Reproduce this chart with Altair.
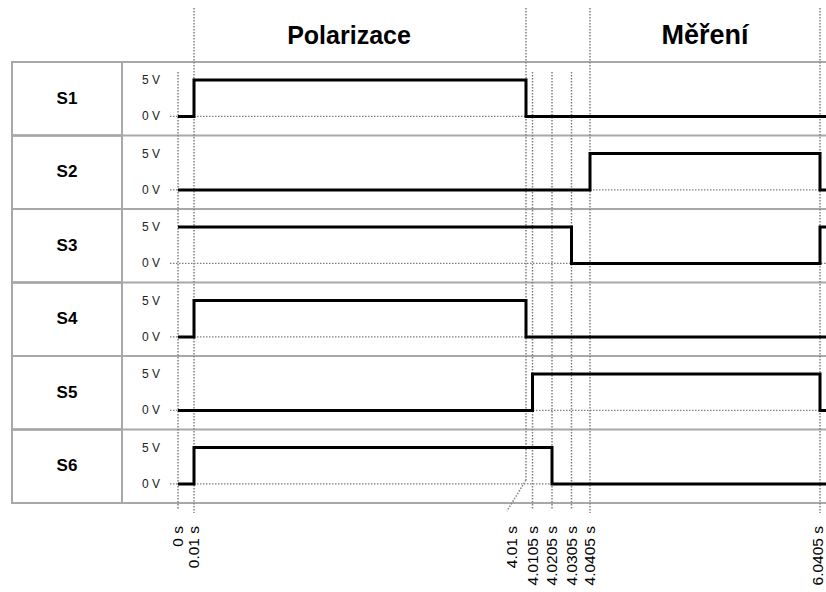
import altair as alt
import pandas as pd

# ---------------- data ----------------
signal_names = ["S1", "S2", "S3", "S4", "S5", "S6"]
signal_times = [
    [0, 0.01, 4.01, 6.1],
    [0, 4.0405, 6.0405, 6.1],
    [0, 4.0305, 6.0405, 6.1],
    [0, 0.01, 4.01, 6.1],
    [0, 4.0105, 6.0405, 6.1],
    [0, 0.01, 4.0205, 6.1],
]
signal_volts = [
    [0, 5, 0, 0],
    [0, 5, 0, 0],
    [5, 0, 5, 5],
    [0, 5, 0, 0],
    [0, 5, 0, 0],
    [0, 5, 0, 0],
]
tick_times = [0, 0.01, 4.01, 4.0105, 4.0205, 4.0305, 4.0405, 6.0405]
tick_labels = ["0 s", "0.01 s", "4.01 s", "4.0105 s", "4.0205 s",
               "4.0305 s", "4.0405 s", "6.0405 s"]
section_names = ["Polarizace", "Měření"]
section_start = [0.01, 4.0405]
section_end = [4.01, 6.0405]
level_labels = ["5 V", "0 V"]
level_values = [5, 0]

# ---------------- tables ----------------
sig_rows = []
for i, name in enumerate(signal_names):
    for t, v in zip(signal_times[i], signal_volts[i]):
        sig_rows.append({"signal": name, "row": i, "t": t, "v": v})
sig_df = pd.DataFrame(sig_rows)

rows_df = pd.DataFrame({"signal": signal_names, "row": list(range(len(signal_names)))})
bounds_df = pd.DataFrame({"b": list(range(len(signal_names) + 1))})

lvl_rows = []
for i, name in enumerate(signal_names):
    for lab, v in zip(level_labels, level_values):
        lvl_rows.append({"row": i, "label": lab, "v": v})
lvl_df = pd.DataFrame(lvl_rows)

bounds_set = set(section_start) | set(section_end)
kinds = []
for t in tick_times:
    if t == 4.01:
        kinds.append("bent")
    elif t in bounds_set:
        kinds.append("long")
    else:
        kinds.append("short")
ticks_df = pd.DataFrame({"t": tick_times, "label": tick_labels, "kind": kinds})

sec_df = pd.DataFrame({"name": section_names, "start": section_start, "end": section_end})

# ---------------- scales / style ----------------
FONT = "Liberation Sans"
GRID = "#a8a8a8"
DOT = "#808080"
DASH = [1.5, 1.5]
xscale = alt.Scale(domain=tick_times,
                   range=[178, 194, 526, 532.5, 552, 571.5, 590, 820],
                   zero=False, nice=False)
yscale = alt.Scale(domain=[0, 6], range=[62, 503], zero=False, nice=False)
LEVEL_Y = "datum.row + 0.74 - datum.v / 5 * 0.495"

X = lambda f: alt.X(f, scale=xscale, axis=None)
Y = lambda f: alt.Y(f, scale=yscale, axis=None)

# row separators across the full width
hlines = alt.Chart(bounds_df).mark_rule(color=GRID, strokeWidth=2).encode(
    y=Y("b:Q"), x=alt.value(12), x2=alt.value(826),
)

# label column boxes
boxes = alt.Chart(rows_df).transform_calculate(r2="datum.row + 1").mark_rect(
    fill=None, fillOpacity=0, stroke=GRID, strokeWidth=2
).encode(y=Y("row:Q"), y2="r2:Q", x=alt.value(12), x2=alt.value(122))

# 0 V dotted reference lines
zero_lines = alt.Chart(rows_df).transform_calculate(v="0", yy=LEVEL_Y).mark_rule(
    color=DOT, strokeWidth=1.2, strokeDash=DASH
).encode(y=Y("yy:Q"), x=alt.value(170), x2=alt.value(826))

# vertical dotted time markers
tick_base = alt.Chart(ticks_df)
long_ticks = tick_base.transform_filter("datum.kind == 'long'").mark_rule(
    color=DOT, strokeWidth=1.5, strokeDash=DASH
).encode(x=X("t:Q"), y=alt.value(8), y2=alt.value(513))
short_ticks = tick_base.transform_filter("datum.kind == 'short'").mark_rule(
    color=DOT, strokeWidth=1.5, strokeDash=DASH
).encode(x=X("t:Q"), y=alt.value(72), y2=alt.value(510))
bent_tick = tick_base.transform_filter("datum.kind == 'bent'").mark_rule(
    color=DOT, strokeWidth=1.5, strokeDash=DASH
).encode(x=X("t:Q"), y=alt.value(8), y2=alt.value(480))
bent_leader = tick_base.transform_filter("datum.kind == 'bent'").mark_rule(
    color=DOT, strokeWidth=1.5, strokeDash=DASH, x2Offset=-19
).encode(x=X("t:Q"), x2="t:Q", y=alt.value(480), y2=alt.value(511))

# signals
signals = alt.Chart(sig_df).transform_calculate(yy=LEVEL_Y).mark_line(
    interpolate="step-after", color="black", strokeWidth=3, strokeJoin="miter"
).encode(x=X("t:Q"), y=Y("yy:Q"), detail="signal:N")

# signal names
names = alt.Chart(rows_df).transform_calculate(yy="datum.row + 0.5").mark_text(
    font=FONT, fontSize=17, fontWeight="bold", color="black",
    align="center", baseline="middle"
).encode(y=Y("yy:Q"), x=alt.value(67), text="signal:N")

# level labels
levels = alt.Chart(lvl_df).transform_calculate(yy=LEVEL_Y).mark_text(
    font=FONT, fontSize=12, color="#222222", align="right", baseline="middle"
).encode(y=Y("yy:Q"), x=alt.value(160), text="label:N")

# section titles
sec_base = alt.Chart(sec_df).transform_calculate(mid="(datum.start + datum.end) / 2")
title_pol = sec_base.transform_filter("datum.name == 'Polarizace'").mark_text(
    font=FONT, fontSize=25, fontWeight="bold", color="black",
    align="center", baseline="middle", dx=-11
).encode(x=X("mid:Q"), y=alt.value(36), text="name:N")
title_mer = sec_base.transform_filter("datum.name != 'Polarizace'").mark_text(
    font=FONT, fontSize=27, fontWeight="bold", color="black",
    align="center", baseline="middle"
).encode(x=X("mid:Q"), y=alt.value(36), text="name:N")

# time labels
tlabels = tick_base.transform_filter(
    "datum.kind != 'bent' && datum.t < 6"
).mark_text(
    font=FONT, fontSize=15.5, color="black", angle=270,
    align="right", baseline="middle"
).encode(x=X("t:Q"), y=alt.value(526), text="label:N")
tlabel_end = tick_base.transform_filter("datum.t > 6").mark_text(
    font=FONT, fontSize=15.5, color="black", angle=270,
    align="right", baseline="middle", dy=-2
).encode(x=X("t:Q"), y=alt.value(526), text="label:N")
tlabel_bent = tick_base.transform_filter("datum.kind == 'bent'").mark_text(
    font=FONT, fontSize=15.5, color="black", angle=270,
    align="right", baseline="middle", dy=-14
).encode(x=X("t:Q"), y=alt.value(526), text="label:N")

chart = alt.layer(
    hlines, boxes, zero_lines, long_ticks, short_ticks, bent_tick, bent_leader,
    signals, names, levels, title_pol, title_mer, tlabels, tlabel_end, tlabel_bent,
).properties(
    width=826, height=592, autosize="none", padding=0, background="white"
).configure_view(stroke=None)

chart.save("out.html", embed_options={"renderer": "svg", "actions": False})
